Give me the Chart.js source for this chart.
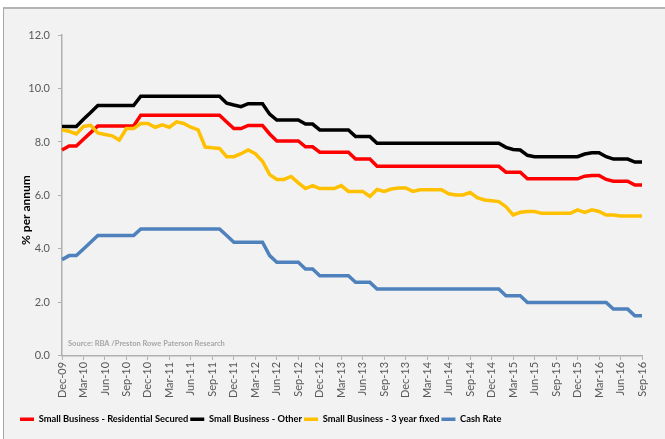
<!DOCTYPE html>
<html>
<head>
<meta charset="utf-8">
<script src="https://cdn.jsdelivr.net/npm/chart.js@4"></script>
<style>
  html, body { margin: 0; padding: 0; background: #fff; }
  #wrap { position: relative; width: 665px; height: 439px; overflow: hidden; }
  #panel {
    position: absolute; left: 3px; top: 7px; width: 700px; height: 480px;
    background: #f2f2f2; border-left: 1px solid #a6a6a6; border-top: 2px solid #b4b4b4;
  }
  #trend-chart { position: absolute; left: 0; top: 0; }
</style>
</head>
<body>
<div id="wrap">
  <div id="panel"></div>
  <canvas id="trend-chart" width="665" height="439"></canvas>
</div>
<script>
// monthly, Dec-09 .. Sep-16
const months = [
  'Dec-09',
  'Jan-10','Feb-10','Mar-10','Apr-10','May-10','Jun-10','Jul-10','Aug-10','Sep-10','Oct-10','Nov-10','Dec-10',
  'Jan-11','Feb-11','Mar-11','Apr-11','May-11','Jun-11','Jul-11','Aug-11','Sep-11','Oct-11','Nov-11','Dec-11',
  'Jan-12','Feb-12','Mar-12','Apr-12','May-12','Jun-12','Jul-12','Aug-12','Sep-12','Oct-12','Nov-12','Dec-12',
  'Jan-13','Feb-13','Mar-13','Apr-13','May-13','Jun-13','Jul-13','Aug-13','Sep-13','Oct-13','Nov-13','Dec-13',
  'Jan-14','Feb-14','Mar-14','Apr-14','May-14','Jun-14','Jul-14','Aug-14','Sep-14','Oct-14','Nov-14','Dec-14',
  'Jan-15','Feb-15','Mar-15','Apr-15','May-15','Jun-15','Jul-15','Aug-15','Sep-15','Oct-15','Nov-15','Dec-15',
  'Jan-16','Feb-16','Mar-16','Apr-16','May-16','Jun-16','Jul-16','Aug-16','Sep-16'
];

const residentialSecured = [
  7.7,
  7.85, 7.85, 8.1, 8.35, 8.6, 8.6, 8.6, 8.6, 8.6, 8.6, 9.0, 9.0,
  9.0, 9.0, 9.0, 9.0, 9.0, 9.0, 9.0, 9.0, 9.0, 9.0, 8.75, 8.5,
  8.5, 8.62, 8.62, 8.62, 8.3, 8.04, 8.04, 8.04, 8.04, 7.82, 7.82, 7.62,
  7.62, 7.62, 7.62, 7.62, 7.36, 7.36, 7.36, 7.09, 7.09, 7.09, 7.09, 7.09,
  7.09, 7.09, 7.09, 7.09, 7.09, 7.09, 7.09, 7.09, 7.09, 7.09, 7.09, 7.09,
  7.09, 6.87, 6.87, 6.87, 6.62, 6.62, 6.62, 6.62, 6.62, 6.62, 6.62, 6.62,
  6.72, 6.75, 6.75, 6.6, 6.53, 6.53, 6.53, 6.39, 6.39
];

const businessOther = [
  8.58,
  8.58, 8.58, 8.85, 9.1, 9.36, 9.36, 9.36, 9.36, 9.36, 9.36, 9.71, 9.71,
  9.71, 9.71, 9.71, 9.71, 9.71, 9.71, 9.71, 9.71, 9.71, 9.71, 9.45, 9.38,
  9.32, 9.43, 9.43, 9.43, 9.04, 8.82, 8.82, 8.82, 8.82, 8.67, 8.67, 8.45,
  8.45, 8.45, 8.45, 8.45, 8.2, 8.2, 8.2, 7.95, 7.95, 7.95, 7.95, 7.95,
  7.95, 7.95, 7.95, 7.95, 7.95, 7.95, 7.95, 7.95, 7.95, 7.95, 7.95, 7.95,
  7.95, 7.8, 7.72, 7.7, 7.5, 7.45, 7.45, 7.45, 7.45, 7.45, 7.45, 7.45,
  7.55, 7.6, 7.6, 7.45, 7.36, 7.36, 7.36, 7.25, 7.25
];

const threeYearFixed = [
  8.45,
  8.4, 8.3, 8.58, 8.62, 8.34, 8.28, 8.23, 8.07, 8.5, 8.5, 8.69, 8.69,
  8.55, 8.64, 8.55, 8.75, 8.69, 8.55, 8.45, 7.81, 7.78, 7.76, 7.45, 7.45,
  7.56, 7.7, 7.56, 7.28, 6.78, 6.6, 6.6, 6.71, 6.47, 6.26, 6.37, 6.26,
  6.26, 6.26, 6.37, 6.15, 6.15, 6.15, 5.96, 6.22, 6.15, 6.24, 6.28, 6.28,
  6.15, 6.21, 6.21, 6.21, 6.21, 6.06, 6.02, 6.02, 6.11, 5.92, 5.83, 5.8,
  5.77, 5.58, 5.27, 5.37, 5.4, 5.4, 5.33, 5.33, 5.33, 5.33, 5.33, 5.46,
  5.37, 5.46, 5.4, 5.27, 5.27, 5.23, 5.23, 5.23, 5.23
];

const cashRate = [
  3.6,
  3.75, 3.75, 4.0, 4.25, 4.5, 4.5, 4.5, 4.5, 4.5, 4.5, 4.75, 4.75,
  4.75, 4.75, 4.75, 4.75, 4.75, 4.75, 4.75, 4.75, 4.75, 4.75, 4.5, 4.25,
  4.25, 4.25, 4.25, 4.25, 3.75, 3.5, 3.5, 3.5, 3.5, 3.25, 3.25, 3.0,
  3.0, 3.0, 3.0, 3.0, 2.75, 2.75, 2.75, 2.5, 2.5, 2.5, 2.5, 2.5,
  2.5, 2.5, 2.5, 2.5, 2.5, 2.5, 2.5, 2.5, 2.5, 2.5, 2.5, 2.5,
  2.5, 2.25, 2.25, 2.25, 2.0, 2.0, 2.0, 2.0, 2.0, 2.0, 2.0, 2.0,
  2.0, 2.0, 2.0, 2.0, 1.75, 1.75, 1.75, 1.5, 1.5
];

const yTicks = [0, 2, 4, 6, 8, 10, 12];
const sourceNote = 'Source: RBA /Preston Rowe Paterson Research';

const FONT = "Lato, 'Open Sans', sans-serif";
const AXIS_GREY = '#b0b0b0';

function series(label, data, color, order) {
  return {
    label, data, order,
    borderColor: color,
    backgroundColor: color,
    borderWidth: 3.5,
    pointRadius: 0,
    tension: 0,
    fill: false
  };
}

// small grey source line inside the plot
const sourcePlugin = {
  id: 'sourceNote',
  afterDraw(chart) {
    const { ctx, chartArea } = chart;
    ctx.save();
    ctx.font = "bold 7.5px " + FONT;
    ctx.fillStyle = '#a6a6a6';
    ctx.textBaseline = 'middle';
    ctx.fillText(sourceNote, chartArea.left + 6, chartArea.bottom - 12);
    ctx.restore();
  }
};

new Chart(document.getElementById('trend-chart').getContext('2d'), {
  type: 'line',
  data: {
    labels: months,
    datasets: [
      series('Small Business - Residential Secured', residentialSecured, '#ff0000', 4),
      series('Small Business - Other', businessOther, '#000000', 3),
      series('Small Business - 3 year fixed', threeYearFixed, '#ffc000', 2),
      series('Cash Rate', cashRate, '#4f81bd', 1)
    ]
  },
  options: {
    responsive: false,
    animation: false,
    layout: { padding: { left: 18, right: 23, top: 35, bottom: 5 } },
    plugins: {
      tooltip: { enabled: false },
      legend: {
        position: 'bottom',
        align: 'start',
        labels: {
          color: '#000',
          font: { family: FONT, size: 9.3, weight: 'bold' },
          usePointStyle: true,
          pointStyle: 'line',
          pointStyleWidth: 14,
          boxHeight: 11,
          padding: 2,
          sort: (a, b) => a.datasetIndex - b.datasetIndex
        }
      }
    },
    scales: {
      x: {
        type: 'category',
        offset: false,
        afterFit: s => { s.height = 56.8; },
        border: { color: AXIS_GREY, width: 1.5 },
        grid: {
          drawOnChartArea: false,
          tickLength: 4,
          color: c => (c.index % 3 === 0 ? AXIS_GREY : 'rgba(0,0,0,0)')
        },
        ticks: {
          autoSkip: false,
          maxRotation: 90,
          minRotation: 90,
          padding: 2,
          color: '#595959',
          font: { family: FONT, size: 11 },
          callback: (v, i) => (i % 3 === 0 ? months[i] : '')
        }
      },
      y: {
        min: 0,
        max: 12,
        afterFit: s => { s.width = 44; },
        afterBuildTicks: s => { s.ticks = yTicks.map(v => ({ value: v })); },
        border: { color: AXIS_GREY, width: 1.5 },
        grid: { drawOnChartArea: false, tickLength: 4, color: AXIS_GREY },
        title: {
          display: true,
          text: '% per annum          ',
          color: '#000',
          padding: { top: 1, bottom: 0 },
          font: { family: FONT, size: 12, weight: 'bold' }
        },
        ticks: {
          padding: 8,
          color: '#595959',
          font: { family: FONT, size: 11 },
          callback: v => v.toFixed(1)
        }
      }
    }
  },
  plugins: [sourcePlugin]
});
</script>
</body>
</html>
